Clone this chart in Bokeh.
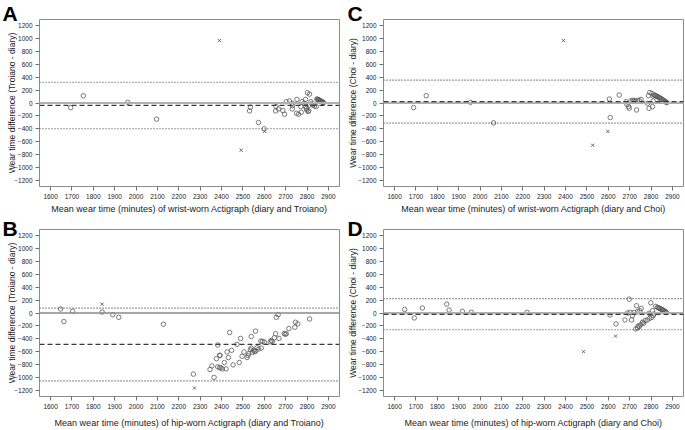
from bokeh.plotting import figure
from bokeh.layouts import row, column
from bokeh.models import Span, Range1d
from bokeh.embed import file_html
from bokeh.resources import INLINE

x_ticks = list(range(1600, 3000, 100))
y_ticks = list(range(-1200, 1400, 200))

# ---- Panel A: wrist, Troiano vs diary ----
a_cx = [1694, 1753, 1961, 2096, 2531, 2535, 2573, 2599, 2653, 2655, 2667, 2687, 2695,
        2703, 2718, 2731, 2731, 2732, 2753, 2751, 2760, 2773, 2771, 2777, 2787, 2793,
        2802, 2812, 2793, 2799, 2805, 2812, 2818, 2827, 2835, 2843, 2797, 2808, 2822,
        2846, 2849, 2852, 2854, 2856, 2858, 2861, 2863, 2864, 2866, 2869, 2871, 2873, 2875, 2877]
a_cy = [-72, 113, 10, -251, -123, -67, -303, -400, -123, -56, -92, -118, -174,
        20, 31, -5, -92, -41, 56, -159, -174, -144, -56, 20, -5, 56,
        159, 138, -56, -108, -133, -31, 20, -31, -46, -56, -85, -120, -10,
        62, 57, 53, 50, 45, 41, 37, 33, 29, 25, 21, 17, 12, 8, 5]
a_xx = [2390, 2492, 2602]
a_xy = [969, -733, -441]
a_bias, a_upper, a_lower = -38, 322, -400

# ---- Panel B: hip, Troiano vs diary ----
b_cx = [1647, 1662, 1703, 1841, 1891, 1919, 2128, 2268, 2346, 2365, 2355, 2376, 2382,
        2382, 2391, 2397, 2404, 2421, 2391, 2413, 2426, 2432, 2438, 2447, 2454, 2472,
        2483, 2489, 2496, 2505, 2519, 2524, 2527, 2535, 2539, 2539, 2545, 2550, 2559,
        2566, 2574, 2584, 2591, 2586, 2600, 2628, 2633, 2647, 2653, 2656, 2665, 2669,
        2693, 2703, 2715, 2743, 2746, 2757, 2812, 2393, 2555, 2560, 2637, 2698]
b_cy = [62, -133, 26, 15, -26, -67, -174, -949, -877, -1000, -821, -708, -497,
        -836, -846, -851, -867, -867, -656, -769, -605, -692, -303, -579, -805, -487,
        -769, -395, -672, -605, -692, -662, -631, -569, -544, -364, -610, -579, -282,
        -538, -559, -436, -441, -544, -451, -446, -426, -385, -323, -67, -26, -395,
        -318, -323, -241, -221, -144, -169, -92, -660, -600, -590, -440, -330]
b_xx = [1841, 2273]
b_xy = [138, -1164]
b_bias, b_upper, b_lower = -488, 77, -1052

# ---- Panel C: wrist, Choi vs diary ----
c_cx = [1689, 1748, 1955, 2063, 2605, 2609, 2651, 2683, 2687, 2695, 2698, 2706, 2714,
        2726, 2732, 2737, 2753, 2784, 2788, 2791, 2794, 2804, 2807, 2810, 2810, 2720, 2745,
        2815, 2819, 2823, 2827, 2831, 2835, 2839, 2843, 2847, 2851, 2855, 2859, 2863, 2867, 2871, 2874]
c_cy = [-72, 113, 10, -308, 62, -226, 123, 20, -21, -56, -82, 31, 41,
        31, -108, 41, 56, -5, 113, -82, 164, 149, -56, 31, 108, 36, 38,
        125, 118, 112, 104, 98, 90, 82, 74, 66, 58, 48, 40, 30, 22, 12, 6]
c_xx = [2390, 2527, 2598]
c_xy = [969, -656, -441]
c_bias, c_upper, c_lower = 20, 354, -313

# ---- Panel D: hip, Choi vs diary ----
d_cx = [1647, 1692, 1730, 1844, 1855, 1917, 1959, 2220, 2608, 2636, 2678, 2698, 2690,
        2702, 2709, 2713, 2721, 2732, 2737, 2748, 2754, 2729, 2737, 2745, 2752, 2760,
        2772, 2783, 2794, 2804, 2810, 2814, 2791, 2799, 2807, 2822, 2740, 2765,
        2830, 2834, 2838, 2842, 2846, 2850, 2854, 2858, 2862, 2866, 2869, 2872]
d_cy = [56, -77, 77, 138, 46, 26, 10, 10, -31, -169, -108, 215, 0,
        10, -108, -41, 10, 113, 21, 36, 72, -246, -231, -210, -179, -144,
        -118, -108, -82, -67, -41, -15, -5, 159, 36, 103, -200, -160,
        88, 82, 76, 68, 62, 55, 48, 40, 32, 22, 14, 8]
d_xx = [2484, 2634]
d_xy = [-600, -359]
d_bias, d_upper, d_lower = -21, 224, -260

FONT = "Liberation Sans"
PT_COLOR = "#5a5a5a"


def make_panel(letter, xlab, ylab, cx, cy, xx, xy, bias, upper, lower,
               width, height, left, right, top, bottom, xlab_standoff, ylab_standoff,
               zero_color, zero_width, letter_offset, letter_standoff):
    p = figure(width=width, height=height, output_backend="svg", toolbar_location=None,
               x_range=Range1d(1548, 2952), y_range=Range1d(-1296, 1296),
               min_border_left=left, min_border_right=right,
               min_border_top=top, min_border_bottom=bottom)
    p.grid.visible = False
    p.outline_line_color = "#8c8c8c"
    p.outline_line_width = 1
    p.background_fill_color = "white"
    p.border_fill_color = "white"

    # panel letter as the plot title, pulled into the top-left corner
    p.title.text = letter
    p.title.text_font = FONT
    p.title.text_font_size = "21px"
    p.title.text_font_style = "bold"
    p.title.text_color = "black"
    p.title.align = "left"
    p.title.vertical_align = "bottom"
    p.title.offset = letter_offset
    p.title.standoff = letter_standoff

    for ax in (p.xaxis[0], p.yaxis[0]):
        ax.axis_line_color = None
        ax.major_tick_line_color = "#707070"
        ax.major_tick_out = 4
        ax.major_tick_in = 0
        ax.minor_tick_line_color = None
        ax.major_label_text_font = FONT
        ax.major_label_text_font_size = "6.5px"
        ax.major_label_text_color = "#222222"
        ax.axis_label_text_font = FONT
        ax.axis_label_text_font_style = "normal"
        ax.axis_label_text_color = "#222222"
        ax.major_label_standoff = 3
    p.xaxis.ticker = x_ticks
    p.yaxis.ticker = y_ticks
    p.xaxis.axis_label = xlab
    p.yaxis.axis_label = ylab
    p.xaxis.axis_label_text_font_size = "9px"
    p.yaxis.axis_label_text_font_size = "8.5px"
    p.xaxis.axis_label_standoff = xlab_standoff
    p.yaxis.axis_label_standoff = ylab_standoff
    p.yaxis.major_label_orientation = "horizontal"

    p.add_layout(Span(location=0, dimension="width", line_color=zero_color,
                      line_width=zero_width))
    p.add_layout(Span(location=bias, dimension="width", line_color="#3a3a3a",
                      line_width=1.3, line_dash="5 3"))
    for loc in (upper, lower):
        p.add_layout(Span(location=loc, dimension="width", line_color="#3a3a3a",
                          line_width=1.2, line_dash="1 2"))

    p.scatter(cx, cy, marker="circle", size=4.5, fill_color=None,
              line_color=PT_COLOR, line_width=0.8)
    p.scatter(xx, xy, marker="x", size=4.5, line_color=PT_COLOR, line_width=0.9)
    return p


pa = make_panel("A", "Mean wear time (minutes) of wrist-worn Actigraph (diary and Troiano)",
                "Wear time difference (Troiano - diary)", a_cx, a_cy, a_xx, a_xy,
                a_bias, a_upper, a_lower, 340, 216, 39, 1, 19, 28, 2, -6,
                "#b0b0b0", 2, -37, -10)
pc = make_panel("C", "Mean wear time (minutes) of wrist-worn Actigraph (diary and Choi)",
                "Wear time difference (Choi - diary)", c_cx, c_cy, c_xx, c_xy,
                c_bias, c_upper, c_lower, 345, 216, 43, 2, 19, 28, 2, -3,
                "#b0b0b0", 2, -36, -10)
pb = make_panel("B", "Mean wear time (minutes) of hip-worn Actigraph (diary and Troiano)",
                "Wear time difference (Troiano - diary)", b_cx, b_cy, b_xx, b_xy,
                b_bias, b_upper, b_lower, 340, 214, 39, 1, 13, 32, 6, -6,
                "#8a8a8a", 1.5, -37, -21)
pd_ = make_panel("D", "Mean wear time (minutes) of hip-worn Actigraph (diary and Choi)",
                 "Wear time difference (Choi - diary)", d_cx, d_cy, d_xx, d_xy,
                 d_bias, d_upper, d_lower, 345, 214, 43, 2, 13, 32, 6, -3,
                 "#b0b0b0", 2, -36, -21)

layout = column(row(pa, pc), row(pb, pd_))

open("out.html", "w").write(file_html(layout, INLINE))
